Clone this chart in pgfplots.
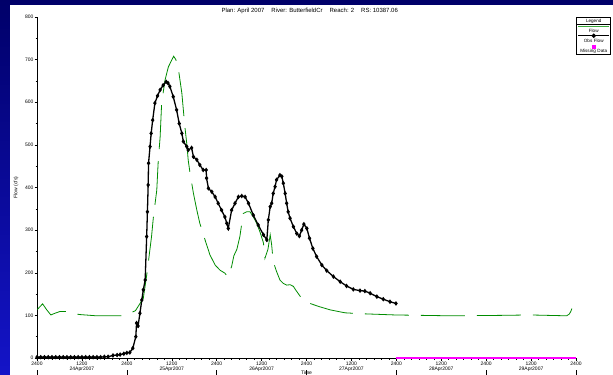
\documentclass[border=0pt]{standalone}
\usepackage{pgfplots}
\pgfplotsset{compat=1.18}
\usepackage{fontspec}
\setmainfont{Liberation Sans}
\definecolor{flowgreen}{RGB}{0,140,0}
\definecolor{leggreen}{RGB}{60,170,60}
\definecolor{bgtop}{RGB}{0,0,105}
\definecolor{bgbot}{RGB}{20,20,200}
\definecolor{MissMag}{RGB}{255,0,255}
\newcommand{\lbl}{\fontsize{5bp}{5.4bp}\selectfont}
\newcommand{\daybar}{\raisebox{-4bp}{\rule{0.6bp}{5bp}}}
\begin{document}
\begin{tikzpicture}
\useasboundingbox (0,0) rectangle (613bp,375bp);
\shade[top color=bgtop, bottom color=bgbot] (0,0) rectangle (613bp,375bp);
\fill[white] (10bp,0) rectangle (613bp,370bp);
\begin{axis}[
  at={(37bp,17bp)}, anchor=south west, scale only axis,
  width=539bp, height=341bp,
  xmin=0, xmax=144, ymin=0, ymax=800,
  axis x line=bottom, axis y line=left,
  axis line style={-, line width=0.6bp, black},
  clip=false,
  xtick={0,12,...,144}, minor xtick={0,2,...,144},
  ytick={0,100,...,800}, minor ytick={50,150,...,750},
  tick align=outside, major tick length=2.5bp, minor tick length=1.5bp,
  tick style={black, line width=0.5bp},
  xticklabels={{2400\\\daybar},{1200\\24Apr2007},{2400\\\daybar},{1200\\25Apr2007},{2400\\\daybar},{1200\\26Apr2007},{2400\\\daybar},{1200\\27Apr2007},{2400\\\daybar},{1200\\28Apr2007},{2400\\\daybar},{1200\\29Apr2007},{2400\\\daybar}},
  xticklabel style={align=center, font=\lbl, inner sep=1bp},
  yticklabel style={font=\lbl, inner sep=0.8bp},
  /pgf/number format/assume math mode=true,
  title={Plan: April 2007\hspace{7bp}River: ButterfieldCr\hspace{7bp}Reach: 2\hspace{7bp}RS: 10387.06},
  title style={at={(axis description cs:0.506,1)}, anchor=center, font=\fontsize{6bp}{6.5bp}\selectfont, inner sep=0pt},
  xlabel={Time},
  xlabel style={at={(axis description cs:0.5,0)}, anchor=north, yshift=-13bp, font=\lbl, inner sep=0pt},
  ylabel={Flow (cfs)},
  ylabel style={at={(axis description cs:-0.039,0.5)}, anchor=center, font=\lbl, inner sep=0pt},
  legend style={at={(1.065,1)}, anchor=north east, draw=black, line width=0.6bp, fill=white,
    inner sep=1.5bp, row sep=5.6bp, column sep=0pt,
    nodes={inner sep=0pt, text width=31bp, align=center, text height=3.4bp, text depth=1bp, font=\fontsize{4.6bp}{5bp}\selectfont},
    /tikz/every even column/.style={column sep=0pt}},
  legend cell align=center,
]
\addlegendimage{legend image code/.code={\draw[overlay,black,line width=0.5bp] (-1.5bp,-3.3bp) -- (32.5bp,-3.3bp);}}
\addlegendentry{Legend}
\addplot[flowgreen, line width=0.8bp, dash pattern=on 44bp off 12bp, dash phase=7bp,
  legend image code/.code={\draw[overlay,leggreen,line width=0.9bp] (0bp,4.3bp) -- (31bp,4.3bp);}]
coordinates {(0.1,114)(1.5,127)(2.6,113)(3.7,101)(4.8,105)(6.1,109)(7.7,109)(11.3,102)(15.9,99)(23.3,99)(26.3,111)(28.4,140)(29.4,200)(30.6,285)(31.1,331)(32,394)(32.4,464)(32.9,519)(33.3,598)(34.2,652)(35.1,683)(36,699)(36.5,708)(37.1,700)(37.8,676)(38.2,652)(38.7,621)(39.1,582)(39.5,543)(40,504)(40.4,464)(40.9,433)(41.8,386)(42.7,347)(43.5,316)(44.9,277)(46.2,242)(47.6,218)(48.9,206)(50.2,199)(51,190)(52,215)(52.6,240)(53.4,255)(54.2,285)(55.1,339)(56,343)(56.9,343)(57.8,331)(58.7,316)(59.6,295)(60.5,270)(60.9,234)(61.7,255)(62.3,289)(62.7,265)(63.1,226)(64,203)(64.9,183)(65.8,175)(66.7,171)(67.6,172)(68.5,168)(69,161)(70.7,140)(72.9,128)(75.6,120)(78.3,113)(82.3,106)(86.3,104)(95.6,101)(110.3,99)(123.7,100)(131.7,101)(141.5,99)(142.2,103)(142.6,109)(142.9,116)};
\addlegendentry{Flow}
\addplot[black, line width=1.3bp, mark=diamond*, mark size=1.3bp, mark options={solid},
  legend image code/.code={\draw[overlay,black,line width=0.5bp] (0bp,5.3bp) -- (31bp,5.3bp);
    \fill[overlay,black] (15.5bp,6.7bp) -- (16.9bp,5.3bp) -- (15.5bp,3.9bp) -- (14.1bp,5.3bp) -- cycle;}]
coordinates {(0,2)(1,2)(2,2)(3,2)(4,2)(5,2)(6,2)(7,2)(8,2)(9,2)(10,2)(11,2)(12,2)(13,2)(14,2)(15,2)(16,2)(17,2)(18,3)(19,3)(20.3,6)(21.4,7)(22.2,8)(23.2,10)(24,12)(24.8,13)(25.6,23)(26.4,50)(26.6,82)(27,75)(27.5,105)(28,136)(28.4,160)(28.9,183)(29.3,285)(29.5,343)(29.7,406)(29.8,457)(30.2,496)(30.5,527)(30.9,558)(31.5,598)(32.2,615)(32.9,629)(33.7,640)(34.5,648)(35,645)(35.5,637)(36.4,613)(37.3,582)(38,550)(38.7,527)(39.1,508)(40,496)(40.4,488)(41.3,493)(41.8,472)(42.7,465)(43.5,453)(44.4,441)(45.2,441)(45.3,422)(45.8,398)(46.7,390)(47.6,378)(48.4,363)(49.3,347)(50.2,331)(50.7,316)(51.1,304)(52,347)(52.9,363)(53.8,378)(54.7,380)(55.6,378)(56.5,363)(57.8,335)(59.1,312)(60.5,289)(61.4,277)(61.8,324)(62.3,355)(62.7,363)(63.1,386)(63.6,402)(64,418)(64.9,429)(65.4,426)(65.8,410)(66.3,386)(66.7,363)(67.1,343)(67.6,328)(68.5,308)(69.4,292)(70.1,286)(70.7,300)(71.3,314)(72.1,304)(72.8,281)(73.7,257)(74.7,238)(76.1,218)(77.4,205)(79.2,191)(81,179)(82.7,169)(84.5,161)(86.3,158)(87.6,157)(89,152)(90.8,144)(92.5,138)(94.3,132)(95.9,128)};
\addlegendentry{Obs Flow}
\addplot[color=MissMag, line width=2.6bp,
  legend image code/.code={\fill[overlay,MissMag] (14.9bp,3.7bp) rectangle (16.1bp,4.9bp);}]
coordinates {(96,0)(144,0)};
\addlegendentry{Missing Data}
\end{axis}
\end{tikzpicture}
\end{document}
